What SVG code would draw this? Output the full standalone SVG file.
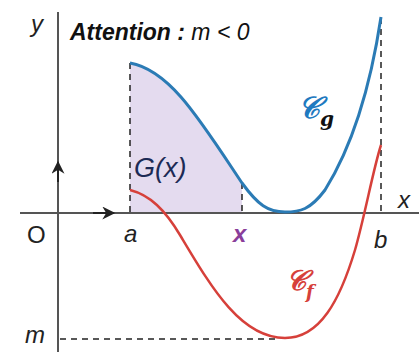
<svg xmlns="http://www.w3.org/2000/svg" width="419" height="352" viewBox="0 0 419 352">
<style>
.axis{stroke:#555;stroke-width:2;fill:none}
.dash{stroke:#222;stroke-width:1.5;stroke-dasharray:6 5;fill:none}
.lbl{font-family:"Liberation Sans",Arial,sans-serif;font-style:italic;font-size:24px;fill:#222}
</style>
<defs>
<marker id="ah" viewBox="0 0 10 10" refX="9" refY="5" markerWidth="16" markerHeight="13" markerUnits="userSpaceOnUse" orient="auto">
<path d="M0,0 L10,5 L0,10 L3,5 Z" fill="#222"/>
</marker>
</defs>
<rect width="419" height="352" fill="#fff"/>
<g id="area">
<path d="M130,63 C170,70 200,120 242,183 L242,213 L130,213 Z" fill="#e4dbef"/>
</g>
<g id="axes">
<line class="axis" x1="58" y1="12" x2="58" y2="352"/>
<line class="axis" x1="20" y1="213" x2="419" y2="213"/>
<path d="M58,182 L58,162" stroke="#222" stroke-width="2" marker-end="url(#ah)"/>
<path d="M93,213 L114,213" stroke="#222" stroke-width="2" marker-end="url(#ah)"/>
</g>
<g id="connectors">
<line class="dash" x1="130" y1="63" x2="130" y2="213"/>
<line class="dash" x1="242" y1="183" x2="242" y2="213"/>
<line class="dash" x1="381" y1="18" x2="381" y2="213"/>
<line class="dash" x1="60" y1="339" x2="278" y2="339"/>
</g>
<g id="curve-g">
<path d="M130,63 C170,70 200,120 242,183 C258,205 268,212 285,212 C300,212 310,210 325,190 C350,150 370,90 381,17" fill="none" stroke="#2b7bb5" stroke-width="3"/>
</g>
<g id="curve-f">
<path d="M130,190 C150,195 165,210 180,235 C210,285 240,338 285,338 C320,338 340,300 355,250 C365,215 373,170 381,145" fill="none" stroke="#d6403a" stroke-width="2.5"/>
</g>
<g id="labels">
<text class="lbl" x="31" y="32">y</text>
<text class="lbl" x="398" y="208">x</text>
<text x="27" y="243" font-family="Liberation Sans,Arial,sans-serif" font-size="24" fill="#222">O</text>
<text class="lbl" x="124" y="242">a</text>
<text class="lbl" x="233" y="242" style="fill:#8a3e9a;font-weight:bold">x</text>
<text class="lbl" x="374" y="248">b</text>
<text class="lbl" x="25" y="343">m</text>
<text x="134" y="177" font-family="Liberation Sans,Arial,sans-serif" font-style="italic" font-size="27" fill="#1c2a55">G(x)</text>
<text x="70" y="40" font-family="Liberation Sans,Arial,sans-serif" font-style="italic" font-size="23" fill="#111"><tspan font-weight="bold">Attention :</tspan> m &lt; 0</text>
<text x="298" y="118" font-family="'DejaVu Serif','Liberation Serif',serif" font-style="italic" font-weight="bold" font-size="30" fill="#1f7ac0">𝒞<tspan font-size="20" dy="8" fill="#111">g</tspan></text>
<text x="286" y="290" font-family="'DejaVu Serif','Liberation Serif',serif" font-style="italic" font-weight="bold" font-size="28" fill="#d6403a">𝒞<tspan font-size="18" dy="8">f</tspan></text>
</g>
</svg>
